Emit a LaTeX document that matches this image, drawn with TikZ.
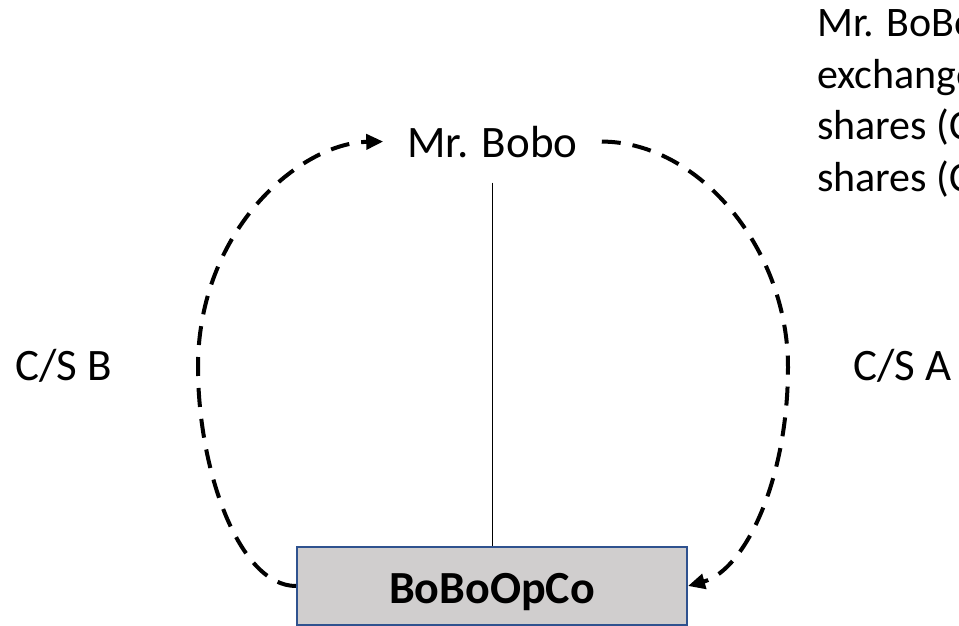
\documentclass[tikz,border=0pt]{standalone}
\usepackage{fontspec}
\setmainfont{Carlito}
\usetikzlibrary{arrows.meta}
\definecolor{boxblue}{HTML}{2F528F}
\definecolor{boxgray}{HTML}{D0CECE}
\begin{document}
\begin{tikzpicture}[x=1pt,y=-1pt,
  txt/.style={inner sep=0pt, font=\fontsize{45}{54}\selectfont},
  note/.style={inner sep=0pt, anchor=base west, font=\fontsize{42}{51}\selectfont},
  flow/.style={line width=4pt, dash pattern=on 19pt off 12pt,
    -{Triangle[length=17pt,width=15pt]}}]
\useasboundingbox (0,0) rectangle (959,625);
\clip (0,0) rectangle (959,625);
\fill[white] (0,0) rectangle (959,625);

% shareholder and operating company
\node[txt, anchor=base, inner xsep=24pt, inner ysep=25pt] (bobo) at (492.5,157) {Mr. Bobo};
\node[draw=boxblue, line width=2pt, fill=boxgray, minimum width=390pt,
      minimum height=78pt, inner sep=0pt, text height=35pt, text depth=0pt,
      font=\fontsize{46}{55}\selectfont\bfseries] (opco) at (492,586) {BoBoOpCo};

% ownership line
\draw[line width=1.2pt] (bobo.south) -- (bobo.south |- opco.north);

% share exchange loops
\draw[flow] (opco.west) .. controls +(-57,0) and (198,470) .. (198,367)
  .. controls (198,230) and (300,143) .. (bobo.west);
\draw[flow] (bobo.east) .. controls (700,142) and (788,250) .. (788,367)
  .. controls (788,480) and (745,570) .. (opco.east);

% share class labels
\node[txt, anchor=base west] (csb) at (15,380) {C/S B};
\node[txt, anchor=base west] (csa) at (853,380) {C/S A};

% explanatory note
\node[note] (n1) at (817,36) {Mr. BoBo};
\node[note] (n2) at (817,88) {exchange};
\node[note] (n3) at (817,139) {shares (C};
\node[note] (n4) at (817,191) {shares (C};
\end{tikzpicture}
\end{document}
